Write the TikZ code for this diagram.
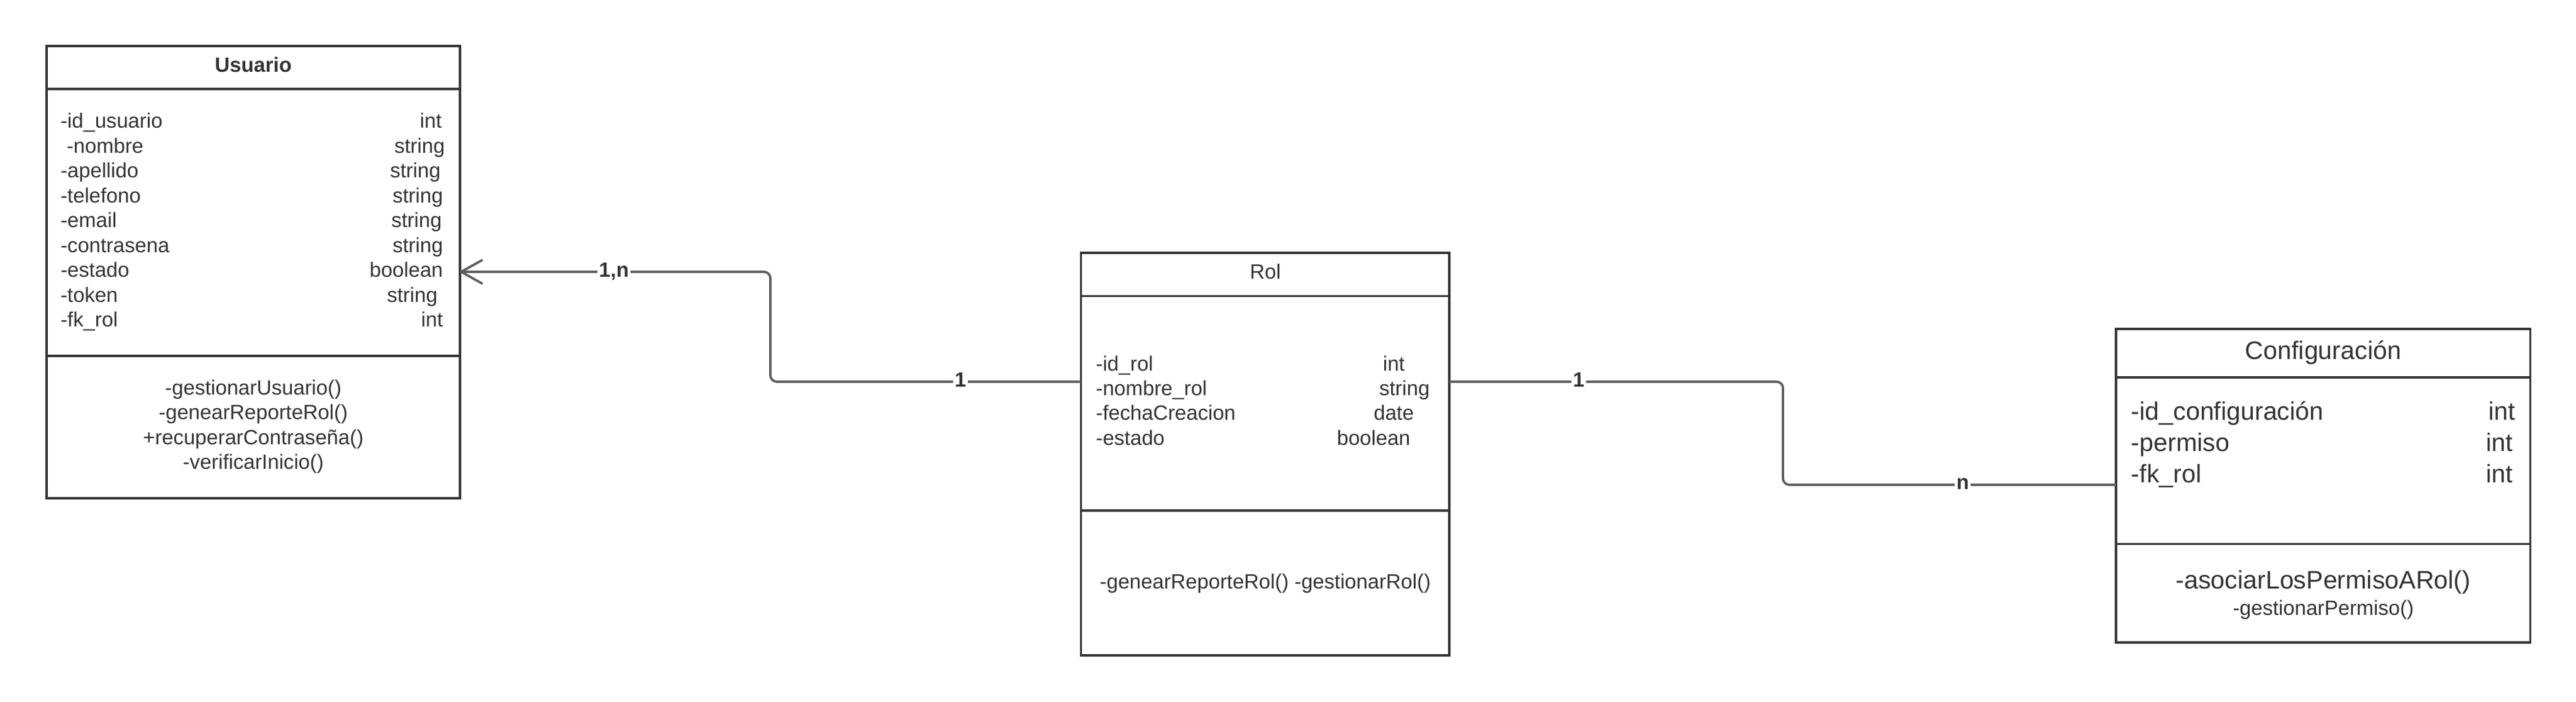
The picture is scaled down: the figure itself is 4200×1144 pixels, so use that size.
\documentclass[tikz,border=0pt]{standalone}
\usepackage{fontspec}
\setmainfont{Liberation Sans}
\usetikzlibrary{arrows.meta}
\definecolor{boxline}{HTML}{333333}
\definecolor{txt}{HTML}{333333}
\definecolor{conn}{HTML}{5E5E5E}
\begin{document}
\begin{tikzpicture}[x=0.25pt,y=-0.25pt,
  classbox/.style={draw=boxline, line width=0.9pt, inner sep=0pt, outer sep=0pt, anchor=north west},
  sepline/.style={draw=boxline, line width=0.9pt},
  txtb/.style={inner sep=0pt, text=txt, font=\fontsize{8.4}{10}\selectfont},
  txtc/.style={inner sep=0pt, text=txt, font=\fontsize{10.3}{12}\selectfont},
  connline/.style={draw=conn, line width=0.95pt, rounded corners=2.6pt},
  mult/.style={inner sep=0.6pt, fill=white, text=txt, font=\bfseries\fontsize{8.4}{10}\selectfont},
]
\fill[white] (0,0) rectangle (4200,1144);
\useasboundingbox (0,0) rectangle (4200,1144);

% ---------- Usuario ----------
\node[classbox, minimum width=168.5pt, minimum height=184.25pt] (usuario) at (76,75) {};
\draw[sepline] (usuario.west |- 0,145) -- (usuario.east |- 0,145);
\draw[sepline] (usuario.west |- 0,580) -- (usuario.east |- 0,580);
\node[txtb, anchor=base, font=\bfseries\fontsize{8.4}{10}\selectfont] (usuarioT) at (413,118) {Usuario};
\node[txtb, anchor=base west] (ua1) at (98,209) {-id\_usuario};
\node[txtb, anchor=base west] (ua2) at (108,249.5) {-nombre};
\node[txtb, anchor=base west] (ua3) at (98,290) {-apellido};
\node[txtb, anchor=base west] (ua4) at (98,330.5) {-telefono};
\node[txtb, anchor=base west] (ua5) at (98,371) {-email};
\node[txtb, anchor=base west] (ua6) at (98,411.5) {-contrasena};
\node[txtb, anchor=base west] (ua7) at (98,452) {-estado};
\node[txtb, anchor=base west] (ua8) at (98,492.5) {-token};
\node[txtb, anchor=base west] (ua9) at (98,533) {-fk\_rol};
\node[txtb, anchor=base east] (ut1) at (721,209) {int};
\node[txtb, anchor=base east] (ut2) at (726,249.5) {string};
\node[txtb, anchor=base east] (ut3) at (719,290) {string};
\node[txtb, anchor=base east] (ut4) at (723,330.5) {string};
\node[txtb, anchor=base east] (ut5) at (721,371) {string};
\node[txtb, anchor=base east] (ut6) at (723,411.5) {string};
\node[txtb, anchor=base east] (ut7) at (723,452) {boolean};
\node[txtb, anchor=base east] (ut8) at (714,492.5) {string};
\node[txtb, anchor=base east] (ut9) at (723,533) {int};
\node[txtb, anchor=base] (um1) at (413,643.5) {-gestionarUsuario()};
\node[txtb, anchor=base] (um2) at (413,684) {-genearReporteRol()};
\node[txtb, anchor=base] (um3) at (413,724.5) {+recuperarContraseña()};
\node[txtb, anchor=base] (um4) at (413,765) {-verificarInicio()};

% ---------- Rol ----------
\node[classbox, minimum width=150.125pt, minimum height=164pt] (rol) at (1762.5,412) {};
\draw[sepline] (rol.west |- 0,482.5) -- (rol.east |- 0,482.5);
\draw[sepline] (rol.west |- 0,832) -- (rol.east |- 0,832);
\node[txtb, anchor=base] (rolT) at (2063,455) {Rol};
\node[txtb, anchor=base west] (ra1) at (1786,605) {-id\_rol};
\node[txtb, anchor=base west] (ra2) at (1786,645) {-nombre\_rol};
\node[txtb, anchor=base west] (ra3) at (1786,685) {-fechaCreacion};
\node[txtb, anchor=base west] (ra4) at (1786,726) {-estado};
\node[txtb, anchor=base west] (rt1) at (2254,605) {int};
\node[txtb, anchor=base west] (rt2) at (2248,645) {string};
\node[txtb, anchor=base west] (rt3) at (2239,685) {date};
\node[txtb, anchor=base west] (rt4) at (2179,726) {boolean};
\node[txtb, anchor=base] (rm1) at (2063,959) {-genearReporteRol() -gestionarRol()};

% ---------- Configuracion ----------
\node[classbox, minimum width=168.875pt, minimum height=127.75pt] (config) at (3450,536) {};
\draw[sepline] (config.west |- 0,615) -- (config.east |- 0,615);
\draw[sepline] (config.west |- 0,886.5) -- (config.east |- 0,886.5);
\node[txtc, anchor=base] (configT) at (3788,586) {Configuración};
\node[txtc, anchor=base west] (ca1) at (3474,685) {-id\_configuración};
\node[txtc, anchor=base west] (ca2) at (3474,736) {-permiso};
\node[txtc, anchor=base west] (ca3) at (3474,787) {-fk\_rol};
\node[txtc, anchor=base west] (ct1) at (4057,685) {int};
\node[txtc, anchor=base west] (ct2) at (4053,736) {int};
\node[txtc, anchor=base west] (ct3) at (4053,787) {int};
\node[txtc, anchor=base] (cm1) at (3788,959) {-asociarLosPermisoARol()};
\node[txtb, anchor=base] (cm2) at (3788,1002) {-gestionarPermiso()};

% ---------- Connectors ----------
\coordinate (rolW) at (rol.west |- 0,622);
\coordinate (usuE) at (usuario.east |- 0,443);
\coordinate (rolE) at (rol.east |- 0,622);
\coordinate (cfgW) at (config.west |- 0,790);
\draw[connline, -{Straight Barb[length=8.5pt,width=9.5pt,round]}] (rolW) -- (1256,622) -- (1256,443) -- (usuE);
\draw[connline] (rolE) -- (2907,622) -- (2907,790) -- (cfgW);
\node[mult] (m1) at (1001,443) {1,n};
\node[mult] (m2) at (1566,619) {1};
\node[mult] (m3) at (2574,619) {1};
\node[mult] (m4) at (3200,788) {n};
\end{tikzpicture}
\end{document}
